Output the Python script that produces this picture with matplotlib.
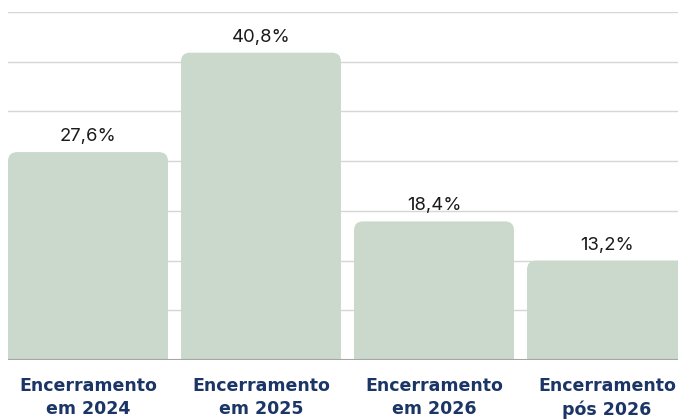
import matplotlib
matplotlib.use("Agg")
import matplotlib.pyplot as plt
from matplotlib.patches import FancyBboxPatch
import numpy as np

categories = ["Encerramento\nem 2024", "Encerramento\nem 2025", "Encerramento\nem 2026", "Encerramento\npós 2026"]
values = [27.6, 40.8, 18.4, 13.2]
value_labels = ["27,6%", "40,8%", "18,4%", "13,2%"]

W, H = 678, 419
fig = plt.figure(figsize=(W / 100, H / 100), dpi=100)
ax = fig.add_axes([8 / W, (H - 360) / H, 670 / W, 348 / H])

bar_color = "#cad9cc"
navy = "#1b3566"
width = 160 / 173
ymax = 46.2

x = np.arange(len(values))
bars = ax.bar(x, values, width=width, color=bar_color, zorder=2)
ax.set_xlim(-width / 2, -width / 2 + 670 / 173)
ax.set_ylim(0, ymax)

# rounded top corners
r_px = 9
px_per_x = 173.0
px_per_y = 348.0 / ymax
rx = r_px / px_per_x
ry = r_px / px_per_y
for b in bars:
    b.set_visible(False)
    x0, w, h = b.get_x(), b.get_width(), b.get_height()
    p = FancyBboxPatch((x0, -ry * 2), w, h + ry * 2,
                       boxstyle=f"round,pad=0,rounding_size={rx}",
                       mutation_aspect=ry / rx,
                       facecolor=bar_color, edgecolor="none", zorder=2)
    ax.add_patch(p)

# grid
for t in np.linspace(0, ymax, 8)[1:]:
    ax.axhline(t, color="#d6d6d6", lw=1, zorder=1)
ax.axhline(0, color="#a6a6a6", lw=1.5, zorder=3)

for xi, v, lab in zip(x, values, value_labels):
    ax.annotate(lab, (xi, v), xytext=(0, 5), textcoords="offset points",
                ha="center", va="bottom", fontsize=13.3, family="Inter",
                fontweight="normal", color="#1a1a1a")

for s in ax.spines.values():
    s.set_visible(False)
ax.set_yticks([])
ax.set_xticks(x)
ax.set_xticklabels(categories, fontsize=12.5, fontweight="bold", color=navy,
                   family="DejaVu Sans", linespacing=1.35)
ax.tick_params(axis="x", length=0, pad=12.5)

fig.savefig("out.png", dpi=100)
